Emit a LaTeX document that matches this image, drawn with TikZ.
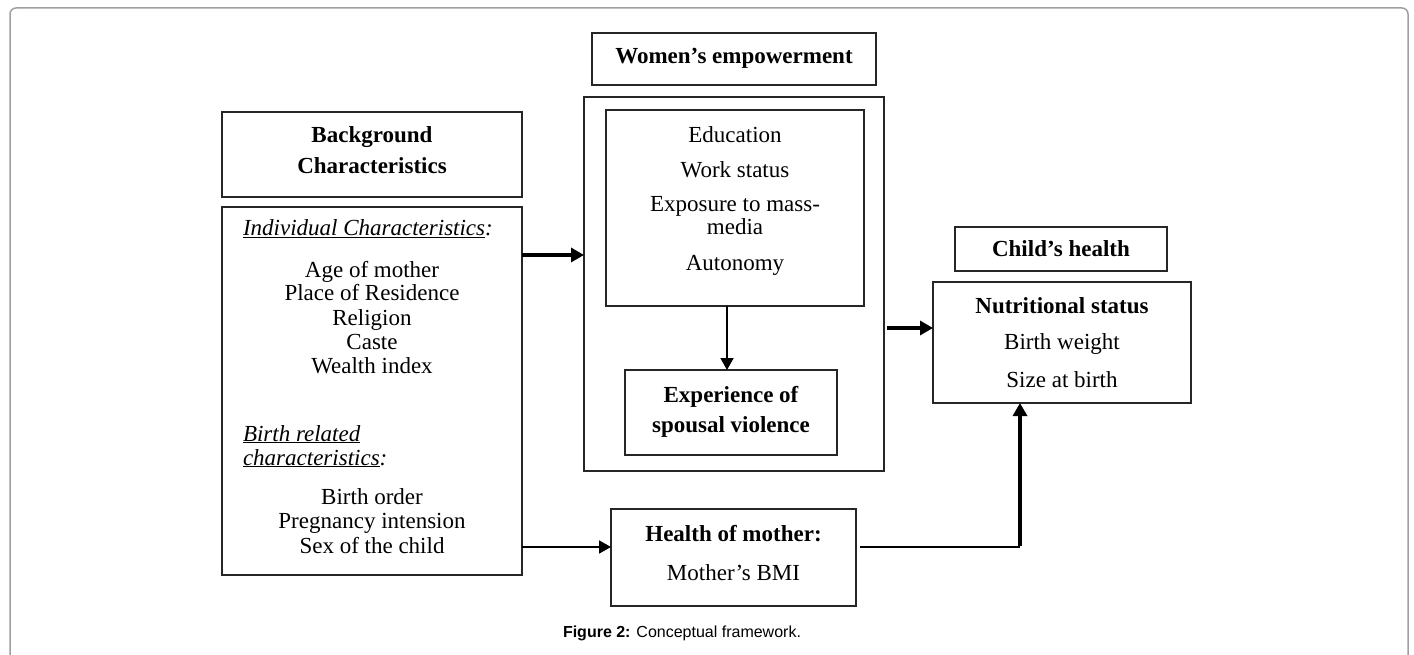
\documentclass[tikz,border=0pt]{standalone}
\usepackage{fontspec}
\setmainfont{Liberation Serif}
\newfontfamily\capfont{Liberation Sans}
\usetikzlibrary{arrows.meta}
\begin{document}
\begin{tikzpicture}[x=1pt,y=-1pt,
  box/.style={draw=black!85, line width=1.3pt, inner sep=0pt, outer sep=0pt},
  txt/.style={inner sep=0pt, outer sep=0pt, anchor=base, font=\fontsize{23}{27}\selectfont},
  btxt/.style={txt, font=\fontsize{23}{27}\selectfont\bfseries},
  thick arrow/.style={line width=3.3pt, -{Triangle[length=13pt,width=14pt]}},
  thin arrow/.style={line width=1.8pt, -{Triangle[length=12pt,width=13pt]}},
  thin line/.style={line width=1.8pt}]
\useasboundingbox (0,0) rectangle (1414,655);
% outer frame
\draw[gray!75, line width=1.5pt, rounded corners=6pt] (10,700) -- (10,8) -- (1408,8) -- (1408,700);

% boxes
\node[box, minimum width=300pt, minimum height=85pt] (bg) at (372,154.5) {};
\node[box, minimum width=300pt, minimum height=368pt] (left) at (372,391) {};
\node[box, minimum width=284pt, minimum height=52pt] (we) at (734,59) {};
\node[box, minimum width=300pt, minimum height=374pt] (mid) at (734,284) {};
\node[box, minimum width=258pt, minimum height=196pt] (inner) at (735,208) {};
\node[box, minimum width=212pt, minimum height=85pt] (exp) at (731,412.5) {};
\node[box, minimum width=212pt, minimum height=44pt] (ch) at (1061,249) {};
\node[box, minimum width=258pt, minimum height=121pt] (nut) at (1062,342.5) {};
\node[box, minimum width=245pt, minimum height=97pt] (hm) at (733.5,557.5) {};

% texts
\node[btxt] (bg1) at (372,143) {Background};
\node[btxt] (bg2) at (372,174) {Characteristics};
\node[txt, anchor=base west] (ic) at (243,236) {\itshape\underline{Individual Characteristics}:};
\node[txt] (l1) at (372,277) {Age of mother};
\node[txt] (l2) at (372,301) {Place of Residence};
\node[txt] (l3) at (372,325) {Religion};
\node[txt] (l4) at (372,349) {Caste};
\node[txt] (l5) at (372,373) {Wealth index};
\node[txt, anchor=base west] (br1) at (243,441) {\itshape\underline{Birth related}};
\node[txt, anchor=base west] (br2) at (243,465) {\itshape\underline{characteristics}:};
\node[txt] (l6) at (372,504) {Birth order};
\node[txt] (l7) at (372,528) {Pregnancy intension};
\node[txt] (l8) at (372,553) {Sex of the child};

\node[btxt] (wet) at (734,64) {Women’s empowerment};
\node[txt] (m1) at (735,143) {Education};
\node[txt] (m2) at (735,178) {Work status};
\node[txt] (m3) at (735,212) {Exposure to mass-};
\node[txt] (m4) at (735,235) {media};
\node[txt] (m5) at (735,270) {Autonomy};
\node[btxt] (e1) at (731,402) {Experience of};
\node[btxt] (e2) at (731,432) {spousal violence};

\node[btxt] (cht) at (1061,257) {Child’s health};
\node[btxt] (n1) at (1062,313) {Nutritional status};
\node[txt] (n2) at (1062,349) {Birth weight};
\node[txt] (n3) at (1062,387) {Size at birth};

\node[btxt] (h1) at (733.5,541) {Health of mother:};
\node[txt] (h2) at (733.5,580) {Mother’s BMI};

\node[inner sep=0pt, anchor=base, font=\capfont\fontsize{16}{19}\selectfont] (cap) at (682,637) {\textbf{Figure 2:} Conceptual framework.};

% connectors
\draw[thick arrow] (left.east |- 0,255) -- (mid.west |- 0,255);
\draw[thin arrow] (inner.south -| 727,0) -- (exp.north -| 727,0);
\draw[thick arrow] ([xshift=3pt]mid.east |- 0,328) -- (nut.west |- 0,328);
\draw[thin arrow] (left.east |- 0,547) -- (hm.west |- 0,547);
\coordinate (corner) at (1020,547);
\draw[thin line] ([xshift=4pt]hm.east |- 0,547) -- (corner);
\draw[thick arrow] ([yshift=1pt]corner) -- (corner |- nut.south);
\end{tikzpicture}
\end{document}
